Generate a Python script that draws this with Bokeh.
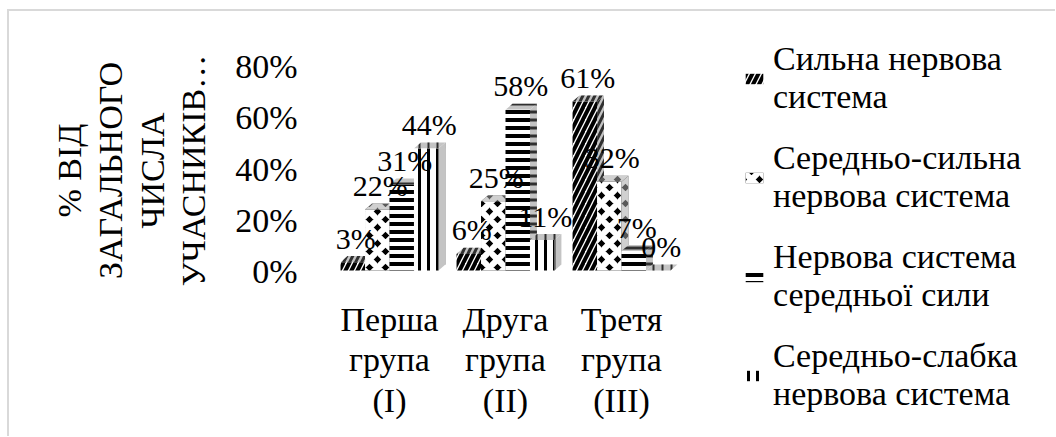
from bokeh.plotting import figure
from bokeh.layouts import row
from bokeh.models import (Range1d, LinearAxis, FixedTicker, PrintfTickFormatter,
                          Legend, LegendItem)
from bokeh.core.properties import value
from bokeh.embed import file_html
from bokeh.resources import INLINE

# ---- data -------------------------------------------------------------
groups = ["Перша\nгрупа\n(I)", "Друга\nгрупа\n(II)", "Третя\nгрупа\n(III)"]
series_names = [
    "Сильна нервова\nсистема",
    "Середньо-сильна\nнервова система",
    "Нервова система\nсередньої сили",
    "Середньо-слабка\nнервова система",
]
strong = [3, 6, 61]
mid_strong = [22, 25, 32]
medium = [31, 58, 7]
mid_weak = [44, 11, 0]
y_ticks = [0, 20, 40, 60, 80]
y_title = "% ВІД\nЗАГАЛЬНОГО\nЧИСЛА\nУЧАСНИКІВ…"

series_values = [strong, mid_strong, medium, mid_weak]

# ---- styling ----------------------------------------------------------
FONT = "Liberation Serif, Times New Roman, serif"
BAR_W = 0.211      # width of one column (category units)
DX = 0.06          # 3-D depth offset, horizontal (category units)
DY = 2.2           # 3-D depth offset, vertical (percent units)

front_styles = [
    dict(fill_color="white", hatch_color="black",
         hatch_pattern=value("/"), hatch_scale=12, hatch_weight=4),
    dict(fill_color="black", hatch_color="white",
         hatch_pattern=value("x"), hatch_scale=16, hatch_weight=6),
    dict(fill_color="white", hatch_color="black",
         hatch_pattern=value("-"), hatch_scale=8, hatch_weight=4),
    dict(fill_color="white", hatch_color="black",
         hatch_pattern=value("|"), hatch_scale=9, hatch_weight=3),
]
side_styles = [
    dict(fill_color="#c4c4c4", hatch_color="#303030",
         hatch_pattern=value("/"), hatch_scale=12, hatch_weight=3),
    dict(fill_color="#5a5a5a", hatch_color="#d0d0d0",
         hatch_pattern=value("x"), hatch_scale=16, hatch_weight=6),
    dict(fill_color="#c4c4c4", hatch_color="#303030",
         hatch_pattern=value("-"), hatch_scale=8, hatch_weight=3),
    dict(fill_color="#c4c4c4", hatch_color="#303030",
         hatch_pattern=value("|"), hatch_scale=9, hatch_weight=2),
]

# ---- main chart -------------------------------------------------------
p = figure(width=700, height=425,
           x_range=Range1d(-0.5, 2.7586), y_range=Range1d(-10.83, 83.03),
           output_backend="svg", toolbar_location=None,
           x_axis_location=None, y_axis_location=None,
           min_border_left=322, min_border_right=0,
           min_border_top=29, min_border_bottom=136,
           background_fill_color="white", border_fill_color="white",
           outline_line_color=None)
p.frame_align = False

# back-wall value axis
p.extra_y_ranges = {"wall": Range1d(-11.32, 90.15)}
yax = LinearAxis(y_range_name="wall", ticker=FixedTicker(ticks=y_ticks),
                 formatter=PrintfTickFormatter(format="%d%%"), axis_label=y_title)
xax = LinearAxis(ticker=FixedTicker(ticks=list(range(len(groups)))),
                 major_label_overrides={i: g for i, g in enumerate(groups)})
for ax in (yax, xax):
    ax.axis_line_color = None
    ax.major_tick_line_color = None
    ax.minor_tick_line_color = None
    ax.major_tick_in = 0
    ax.major_tick_out = 0
    ax.major_label_text_font = FONT
    ax.major_label_text_font_size = "34px"
    ax.major_label_text_color = "black"
yax.major_label_standoff = 34
yax.axis_label_text_font = FONT
yax.axis_label_text_font_size = "34px"
yax.axis_label_text_font_style = "normal"
yax.axis_label_text_color = "black"
yax.axis_label_text_line_height = 1.12
yax.axis_label_standoff = 20
xax.major_label_standoff = 0
xax.major_label_text_line_height = 1.1
p.add_layout(yax, "left")
p.add_layout(xax, "below")

n = len(groups)
for k, vals in enumerate(series_values):
    xs = [i + (k - 1.5) * BAR_W for i in range(n)]
    xl = [x - BAR_W / 2 for x in xs]
    xr = [x + BAR_W / 2 for x in xs]
    side_x = [[r, r + DX, r + DX, r] for r in xr]
    side_y = [[0, DY, v + DY, v] for v in vals]
    top_x = [[l, l + DX, r + DX, r] for l, r in zip(xl, xr)]
    top_y = [[v, v + DY, v + DY, v] for v in vals]
    p.patches(side_x, side_y, line_color=None, **side_styles[k])
    p.patches(top_x, top_y, line_color=None, **side_styles[k])
    p.vbar(x=xs, top=vals, bottom=0, width=BAR_W, line_color=None, **front_styles[k])

# value labels
for k, vals in enumerate(series_values):
    xs = [i + (k - 1.5) * BAR_W for i in range(n)]
    p.text(x=xs, y=vals, text=[f"{v}%" for v in vals],
           text_font=value(FONT), text_font_size="30px", text_color="black",
           text_align="center", text_baseline="middle", x_offset=3, y_offset=-24)
p.grid.visible = False

# ---- legend panel -----------------------------------------------------
lp = figure(width=346, height=425, x_range=Range1d(0, 1), y_range=Range1d(0, 1),
            output_backend="svg", toolbar_location=None,
            x_axis_location=None, y_axis_location=None,
            min_border_left=0, min_border_right=0, min_border_top=0, min_border_bottom=0,
            background_fill_color="white", border_fill_color="white",
            outline_line_color=None)
lp.frame_align = False
lp.grid.visible = False
# zero-height swatch carriers that only feed the legend keys
swatches = [lp.vbar(x=[-1], top=[0], bottom=0, width=0.1, line_color=None,
                    **front_styles[k])
            for k in range(len(series_names))]
legend = Legend(items=[LegendItem(label=series_names[k], renderers=[swatches[k]])
                       for k in range(len(series_names))],
                location=(34, 23))
legend.label_text_font = FONT
legend.label_text_font_size = "34px"
legend.label_text_line_height = 1.2
legend.label_text_color = "black"
legend.glyph_width = 22
legend.glyph_height = 13
legend.label_standoff = 8
legend.spacing = 23
legend.padding = 0
legend.margin = 0
legend.border_line_color = None
legend.background_fill_alpha = 0
lp.add_layout(legend)

layout = row(p, lp, spacing=0)
layout.margin = (9, 0, 0, 7)
layout.styles = {"border-top": "2px solid #d9d9d9", "border-left": "2px solid #d9d9d9"}

open("out.html", "w").write(file_html(layout, INLINE))
